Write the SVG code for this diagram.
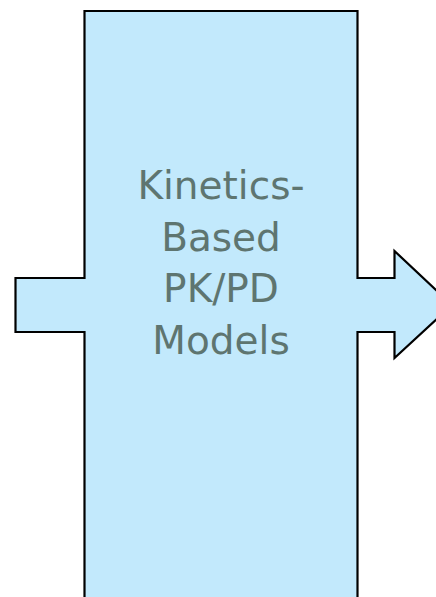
<svg xmlns="http://www.w3.org/2000/svg" width="436" height="597" viewBox="0 0 436 597">
<style>
.shape{fill:#C2E9FC;stroke:#000;stroke-width:2.2;stroke-linejoin:miter}
.lbl{font-family:"DejaVu Sans",sans-serif;font-size:39px;fill:#5E7570;text-anchor:middle}
</style>
<g id="node-models">
<path class="shape" d="M84.5,11 L357.5,11 L357.5,278 L394.5,278 L394.5,251 L452,305 L394.5,358 L394.5,332 L357.5,332 L357.5,610 L84.5,610 L84.5,332 L15.5,332 L15.5,278 L84.5,278 Z"/>
<text class="lbl" x="221" y="199">Kinetics-</text>
<text class="lbl" x="221" y="251">Based</text>
<text class="lbl" x="221" y="302">PK/PD</text>
<text class="lbl" x="221" y="354">Models</text>
</g>
<g id="connectors"></g>
</svg>
